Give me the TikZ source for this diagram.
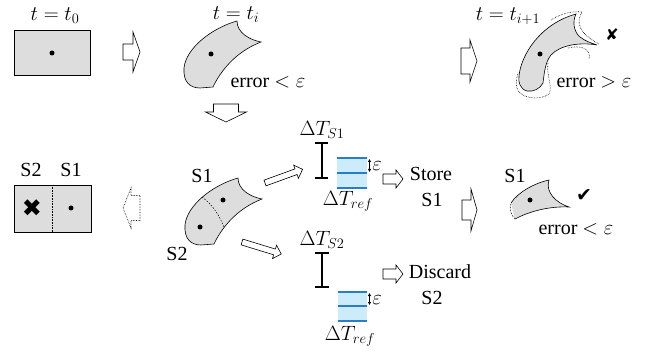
\documentclass[tikz,border=0pt]{standalone}
\usepackage{fontspec}
\setmainfont{Liberation Serif}
\newfontfamily\symf{DejaVu Sans}
\usetikzlibrary{arrows.meta}
\definecolor{blobgray}{RGB}{221,221,221}
\definecolor{refblue}{RGB}{205,236,250}
\definecolor{lineblue}{RGB}{40,125,200}
\newcommand\barrow[8]{%
  \begin{scope}[shift={(#1,#2)},rotate=#3]
    \draw[#8] (0,-#5) -- (#4-#7,-#5) -- (#4-#7,-#6) -- (#4,0) -- (#4-#7,#6) -- (#4-#7,#5) -- (0,#5) -- cycle;
  \end{scope}}
\newcommand\blobpath{(237,21) .. controls (212,28) and (186,48) .. (184,68) .. controls (183,82) and (190,88) .. (200,88) -- (213,87) .. controls (220,72) and (235,52) .. (261,42) .. controls (250,40) and (237,33) .. (237,21) -- cycle}
\tikzset{
  lbl/.style={inner sep=0pt, font=\fontsize{20}{23}\selectfont},
  tlbl/.style={inner sep=0pt, font=\fontsize{22}{25}\selectfont},
  dlbl/.style={inner sep=0pt, font=\fontsize{21}{24}\selectfont},
  blob/.style={draw=black, fill=blobgray, line width=0.6pt},
  blk/.style={draw=black, fill=white, line width=0.6pt, line join=miter},
  ibeam/.style={line width=2pt},
  refline/.style={lineblue, line width=1.3pt},
  epsarr/.style={{Latex[length=3pt,width=3.5pt]}-{Latex[length=3pt,width=3.5pt]}, line width=0.6pt},
}
\begin{document}
\begin{tikzpicture}[x=1pt,y=-1pt]
\useasboundingbox (0,0) rectangle (652,352);
% ---------- row 1
\node[tlbl] (t0) at (55,16) {$t=t_0$};
\draw[blob] (14,30) rectangle (90,75);
\fill (52,53) circle (2.5);
\barrow{123}{52}{0}{17}{8}{20}{7}{blk}
\node[tlbl] (ti) at (236,15) {$t=t_i$};
\draw[blob] \blobpath;
\fill (211,54) circle (2.5);
\node[lbl] (err1) at (268,82) {error $<\varepsilon$};
\barrow{226}{104}{-90}{18}{12.5}{20.5}{10}{blk}
\barrow{461}{61}{0}{16}{13}{21}{7}{blk}
\node[tlbl] (ti1) at (508,16) {$t=t_{i+1}$};
% blob t_{i+1}
\draw[blob] (576,14) .. controls (572,22) and (574,32) .. (580,37) .. controls (585,41) and (591,43) .. (597,45) .. controls (580,42) and (560,45) .. (551,55) .. controls (545,62) and (544,75) .. (543,83) .. controls (540,89) and (533,92) .. (527,91) .. controls (520,89) and (518,82) .. (519,76) .. controls (521,55) and (540,24) .. (576,14) -- cycle;
\draw[densely dotted, line width=0.6pt] (551,20) .. controls (562,13) and (572,11) .. (582,12) .. controls (576,22) and (578,33) .. (599,44);
\draw[densely dotted, line width=0.6pt] (568,48) .. controls (580,45) and (592,48) .. (589,60);
\draw[densely dotted, line width=0.6pt] (548,63) .. controls (546,75) and (553,86) .. (549,94) .. controls (541,100) and (525,99) .. (519,92) .. controls (515,87) and (516,80) .. (518,73);
\fill (540,54) circle (2.5);
\node[lbl, font=\symf\fontsize{16}{16}\selectfont] (x1) at (612,35) {✘};
\node[lbl] (err2) at (594,82) {error $>\varepsilon$};
% ---------- row 2 left
\node[lbl] (s2a) at (31,170) {S2};
\node[lbl] (s1a) at (71,170) {S1};
\draw[blob] (14,185) rectangle (91,232);
\draw[densely dotted, line width=0.6pt] (52,185) -- (52,232);
\node[lbl, font=\symf\fontsize{24}{24}\selectfont] (x2) at (32,208) {✖};
\fill (71,208) circle (2.5);
\barrow{140}{208}{180}{17}{12.5}{20}{8}{densely dotted, draw=black, line width=0.6pt}
% middle blob
\begin{scope}[shift={(1,157)}]
\draw[blob] \blobpath;
\draw[line width=0.5pt, dash pattern=on 1.5pt off 1.5pt] (201,40) .. controls (212,48) and (218,58) .. (223,70);
\fill (222,43) circle (2.5);
\fill (199,70) circle (2.5);
\end{scope}
\node[lbl] (s1b) at (202,176) {S1};
\node[lbl] (s2b) at (177,254) {S2};
\barrow{265}{183}{20}{40}{3}{7}{7}{blk}
\barrow{242}{242}{-17}{41}{3}{7}{7}{blk}
% upper delta T
\node[dlbl] (dts1) at (322,130) {$\Delta T_{S1}$};
\draw[ibeam] (315,143) -- (328,143) (321.5,143) -- (321.5,178) (315,178) -- (328,178);
\fill[refblue] (337,158) rectangle (367,188);
\draw[refline] (337,158) -- (367,158) (337,173) -- (367,173) (337,188) -- (367,188);
\draw[epsarr] (369.5,159) -- (369.5,172);
\node[lbl] (eps1) at (377,166) {$\varepsilon$};
\node[dlbl] (dtr1) at (348,201) {$\Delta T_{ref}$};
\barrow{383}{179}{0}{20}{5}{9}{7}{blk}
\node[lbl] (store) at (431,174) {Store};
\node[lbl] (s1c) at (432,200) {S1};
% lower delta T
\node[dlbl] (dts2) at (322,240) {$\Delta T_{S2}$};
\draw[ibeam] (315,253) -- (329,253) (322,253) -- (322,287) (315,287) -- (329,287);
\fill[refblue] (338,292) rectangle (367,321);
\draw[refline] (338,292) -- (367,292) (338,306) -- (367,306) (338,321) -- (367,321);
\draw[epsarr] (369.5,293) -- (369.5,305);
\node[lbl] (eps2) at (377,300) {$\varepsilon$};
\node[dlbl] (dtr2) at (350,336) {$\Delta T_{ref}$};
\barrow{383}{274}{0}{20}{5}{9}{7}{blk}
\node[lbl] (discard) at (440,272) {Discard};
\node[lbl] (s2c) at (432,298) {S2};
% right part
\barrow{462}{210}{0}{15}{10}{21}{6}{blk}
\node[lbl] (s1d) at (515,176) {S1};
\draw[blob] (511,203) .. controls (518,192) and (535,183) .. (549,180) .. controls (545,192) and (556,203) .. (569,207) .. controls (548,206) and (528,212) .. (515,219);
\draw[line width=0.5pt, dash pattern=on 1.5pt off 1.5pt] (515,219) .. controls (511,215) and (509,209) .. (511,203);
\fill (530,200) circle (2.5);
\node[lbl, font=\symf\fontsize{19}{19}\selectfont] (ck) at (584,196) {✔};
\node[lbl] (err3) at (576,229) {error $<\varepsilon$};
\end{tikzpicture}
\end{document}
